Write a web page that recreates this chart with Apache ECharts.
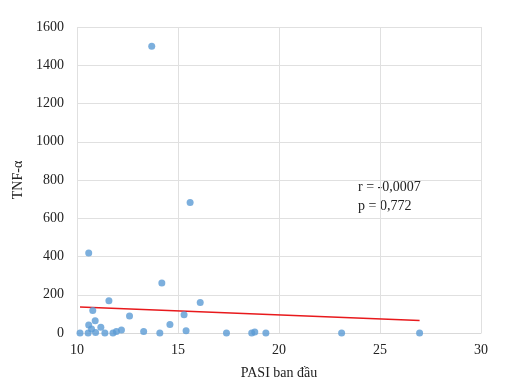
<!DOCTYPE html>
<html><head><meta charset="utf-8">
<script src="https://cdn.jsdelivr.net/npm/echarts@6/dist/echarts.min.js"></script>
<style>html,body{margin:0;padding:0;background:#fff}#c{width:511px;height:386px}</style>
</head><body><div id="c"></div>
<script>
var pasi = [10.15, 10.58, 10.58, 10.55, 10.78, 10.72, 10.9, 10.92, 11.18, 11.38, 11.58, 11.78, 11.95, 12.2, 12.6, 13.3, 13.7, 14.1, 14.2, 14.6, 15.3, 15.4, 15.6, 16.1, 17.4, 18.65, 18.8, 19.35, 23.1, 26.96];
var tnf = [0, 418, 42, 0, 117, 21, 64, 3, 30, 0, 169, 0, 8, 16, 89, 8, 1500, 0, 261, 45, 96, 12, 683, 160, 0, 0, 5, 0, 0, 0];
var trendX = [10.15, 26.96];
var trendY = [136, 66];
var xTicks = [10, 15, 20, 25, 30];
var yTicks = [0, 200, 400, 600, 800, 1000, 1200, 1400, 1600];
var statText = ['r = -0,0007', 'p = 0,772'];

var pts = pasi.map(function (x, i) { return [x, tnf[i]]; });
var trend = trendX.map(function (x, i) { return [x, trendY[i]]; });
var font = '"Liberation Serif", "DejaVu Serif", serif';
var chart = echarts.init(document.getElementById('c'), null, {renderer: 'canvas'});
chart.setOption({
  animation: false,
  backgroundColor: '#fff',
  grid: {left: 77, right: 30, top: 27, bottom: 53},
  xAxis: {
    type: 'value', min: xTicks[0], max: xTicks[xTicks.length - 1], interval: 5,
    name: 'PASI ban đầu', nameLocation: 'middle', nameGap: 33,
    nameTextStyle: {fontFamily: font, fontSize: 14, color: '#222'},
    axisLine: {show: true, lineStyle: {color: '#d9d9d9'}},
    axisTick: {show: false},
    axisLabel: {fontFamily: font, fontSize: 14, color: '#222', margin: 10, formatter: function (v) { return String(v); }},
    splitLine: {show: true, lineStyle: {color: '#e0e0e0'}}
  },
  yAxis: {
    type: 'value', min: yTicks[0], max: yTicks[yTicks.length - 1], interval: 200,
    name: 'TNF-α', nameLocation: 'middle', nameGap: 43, nameRotate: 90,
    nameTextStyle: {fontFamily: font, fontSize: 14, color: '#222'},
    axisLine: {show: false},
    axisTick: {show: false},
    axisLabel: {fontFamily: font, fontSize: 14, color: '#222', margin: 13, formatter: function (v) { return String(v); }},
    splitLine: {show: true, lineStyle: {color: '#e0e0e0'}}
  },
  series: [
    {type: 'scatter', data: pts, symbolSize: 7, itemStyle: {color: '#5b9bd5'}, z: 3},
    {type: 'line', data: trend, symbol: 'none', lineStyle: {color: '#e8191c', width: 1.5}, z: 2}
  ],
  graphic: [{
    type: 'text', left: 358, top: 178,
    style: {text: statText.join('\n'), font: '14px ' + font, fill: '#222', lineHeight: 19}
  }]
});
</script></body></html>
